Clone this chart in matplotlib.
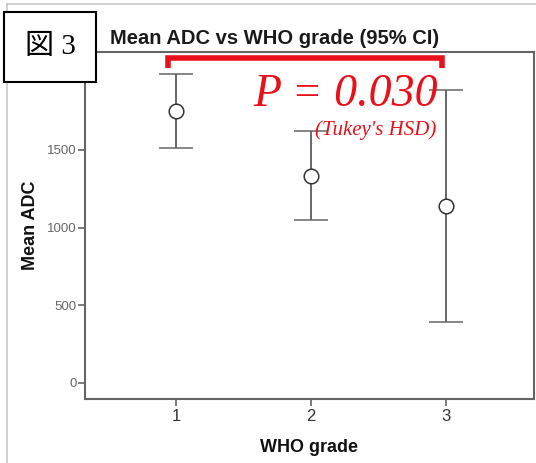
import matplotlib
matplotlib.use("Agg")
from matplotlib import pyplot as plt
from matplotlib.patches import Rectangle
from matplotlib.lines import Line2D

# Data
grades = [1, 2, 3]
means = [1752, 1332, 1141]
ci_upper = [1990, 1622, 1887]
ci_lower = [1514, 1049, 394]
y_ticks = [0, 500, 1000, 1500]
x_ticks = [1, 2, 3]

W, H = 536, 463
fig = plt.figure(figsize=(W / 100, H / 100), dpi=100)
fig.patch.set_facecolor("white")

# light outer frame
fig.add_artist(Line2D([7 / W, 1], [1 - 4 / H, 1 - 4 / H], color="#c8c8c8", lw=1.2))
fig.add_artist(Line2D([7 / W, 7 / W], [0, 1 - 4 / H], color="#c8c8c8", lw=1.2))

ax = fig.add_axes([85 / W, 1 - 399 / H, (534 - 85) / W, (399 - 52) / H])
ax.set_xlim(0.326, 3.652)
ax.set_ylim(-103, 2130)

gray = "#666666"
yerr = [[m - lo for m, lo in zip(means, ci_lower)],
        [hi - m for m, hi in zip(means, ci_upper)]]
ax.errorbar(grades, means, yerr=yerr, fmt="o", mfc="white", mec="#333333",
            mew=1.1, ms=10.5, ecolor=gray, elinewidth=1.4, capsize=12,
            capthick=1.4, zorder=3)

for s in ax.spines.values():
    s.set_color("#666666")
    s.set_linewidth(1.5)

ax.set_xticks(x_ticks)
ax.set_yticks(y_ticks)
ax.tick_params(axis="y", colors="#666666", labelcolor="#666666",
               labelsize=9.5, length=5, width=1.2, pad=1)
ax.tick_params(axis="x", colors="#666666", labelcolor="#333333",
               labelsize=12, length=5, width=1.2, pad=2)
for lbl in ax.get_xticklabels() + ax.get_yticklabels():
    lbl.set_family("Liberation Sans")

ax.set_ylabel("Mean ADC", fontsize=13, fontweight="bold",
              family="Liberation Sans", labelpad=6, color="#111111")
ax.set_xlabel("WHO grade", fontsize=13, fontweight="bold",
              family="Liberation Sans", labelpad=11, color="#111111")

fig.text(110 / W, 1 - 38 / H, "Mean ADC vs WHO grade (95% CI)",
         fontsize=14.5, fontweight="bold", family="Liberation Sans",
         color="#1a1a1a", ha="left", va="center")

# significance bracket
red = "#e8101a"
ax.plot([0.94, 0.94, 2.97, 2.97], [2030, 2092, 2092, 2030], color=red,
        lw=4, solid_capstyle="butt", solid_joinstyle="miter",
        clip_on=False, zorder=4)
ax.text(2.94, 1855, "P = 0.030", color=red, fontsize=33, style="italic",
        family="Liberation Serif", ha="right", va="center", zorder=5)
ax.text(2.93, 1625, "(Tukey's HSD)", color=red, fontsize=15, style="italic",
        family="Liberation Serif", ha="right", va="center", zorder=5)

# figure label box
fig.add_artist(Rectangle((4 / W, 1 - 82 / H), 92 / W, 70 / H,
                         transform=fig.transFigure, facecolor="white",
                         edgecolor="black", lw=1.5, zorder=10))
fig.text(50 / W, 1 - 47 / H, "図 3", fontsize=21,
         family=["Liberation Serif", "Noto Sans CJK JP"],
         ha="center", va="center", zorder=11)

fig.savefig("out.png", dpi=100)
